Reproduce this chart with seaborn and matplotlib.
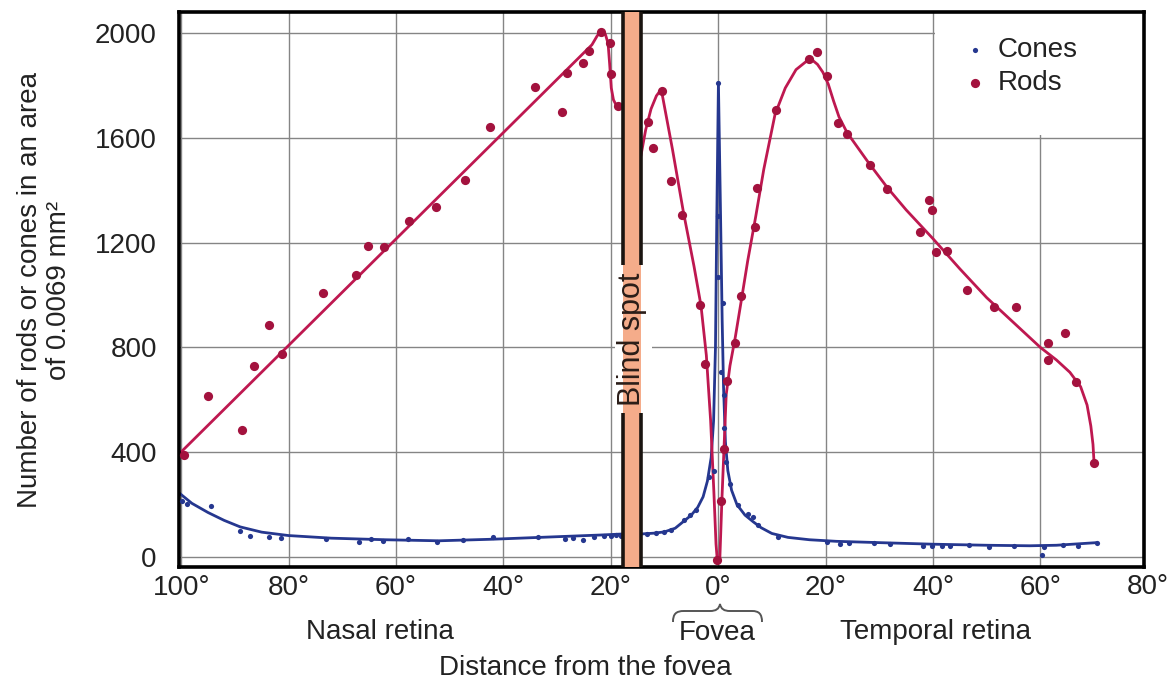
import numpy as np
import pandas as pd
import seaborn as sns
import matplotlib
matplotlib.use("Agg")
import matplotlib.pyplot as plt
from matplotlib.path import Path
from matplotlib.patches import PathPatch, Rectangle

# ---------------- data (degrees: nasal negative, temporal positive) ----------------
rod_pts_x = [-99.4, -95.0, -88.7, -86.5, -83.7, -81.3, -73.5, -67.4, -65.2, -62.2, -57.6, -52.6,
             -47.2, -42.4, -34.1, -29.1, -28.1, -25.2, -24.1, -21.9, -20.2, -20.0, -18.7,
             -13.0, -12.2, -10.5, -8.7, -6.8, -3.3, -2.4, -0.2, 0.6, 1.1, 1.7, 3.2, 4.3, 6.8,
             7.3, 10.8, 16.9, 18.4, 20.2, 22.4, 24.0, 28.3, 31.4, 37.6, 39.2, 39.8, 40.5, 42.7,
             46.4, 51.4, 55.4, 61.5, 64.5, 61.4, 66.6, 69.9]
rod_pts_y = [389, 615, 485, 729, 886, 775, 1008, 1076, 1187, 1183, 1283, 1336,
             1439, 1641, 1794, 1699, 1847, 1886, 1931, 2004, 1962, 1843, 1721,
             1660, 1560, 1780, 1435, 1305, 960, 735, -10, 214, 411, 672, 818, 995, 1260,
             1409, 1706, 1899, 1928, 1835, 1656, 1614, 1495, 1405, 1242, 1361, 1324, 1166, 1168,
             1018, 956, 956, 818, 854, 751, 669, 357]

rod_fit_x = [-100.4, -23.5, -22.5, -21.7, -21.0, -20.5, -20.2, -19.9, -19.5, -19.0, -17.8,
             -14.4, -13.5, -12.5, -11.5, -10.6, -8.5, -6.5, -4.5, -3.2, -2.2, -1.4, -0.8, -0.4,
             -0.15, 0.3, 0.7, 1.1, 1.5, 2.2, 3.2, 4.4, 5.5, 7.0, 8.5, 10.6, 12.5, 14.5, 16.5,
             17.5, 18.5, 19.5, 20.5, 21.5, 22.5, 24.0, 28.0, 31.5, 35.0, 40.0, 45.0, 50.0, 55.0,
             60.0, 63.0, 65.5, 67.5, 68.7, 69.4, 69.8, 70.0]
rod_fit_y = [393, 1955, 1990, 2005, 1995, 1960, 1880, 1790, 1745, 1725, 1718,
             1530, 1630, 1710, 1760, 1785, 1555, 1320, 1110, 960, 770, 520, 250, 50,
             -15, -15, 220, 420, 620, 730, 840, 990, 1130, 1300, 1480, 1690, 1790, 1860, 1893,
             1897, 1880, 1850, 1805, 1740, 1680, 1620, 1505, 1410, 1325, 1215, 1100, 990, 895,
             800, 752, 705, 650, 580, 500, 430, 360]

cone_pts_x = [-99.8, -98.9, -94.4, -89.0, -87.2, -83.7, -81.4, -73.1, -66.9, -64.6, -62.5, -57.8,
              -52.4, -47.5, -42.0, -33.6, -28.5, -27.0, -25.1, -23.1, -21.2, -20.0, -19.0, -18.1,
              -13.2, -11.5, -10.0, -8.8, -6.4, -5.2, -4.2, -1.7, -0.8, 0.0, 0.0, 0.0, 0.9, 0.6,
              1.0, 1.0, 1.5, 2.2, 3.7, 5.5, 6.4, 7.4, 11.1, 20.3, 22.6, 24.3, 29.0, 32.0, 38.2,
              39.9, 41.6, 43.2, 46.8, 50.5, 55.1, 60.7, 60.3, 64.2, 67.0, 70.5]
cone_pts_y = [214, 204, 195, 98, 82, 76, 73, 69, 57, 67, 63, 69,
              57, 65, 78, 78, 69, 72, 65, 78, 82, 82, 84, 82,
              88, 91, 95, 103, 143, 160, 181, 304, 330, 1810, 1300, 1070, 968, 707,
              619, 493, 361, 279, 197, 165, 153, 122, 78, 59, 50, 53, 55, 50, 44,
              44, 44, 44, 47, 40, 44, 40, 9, 47, 44, 53]

cone_fit_x = [-100.4, -98, -95, -92, -89, -85, -80, -72, -62, -52, -42, -32, -22, -17.8,
              -14.4, -12, -10, -8, -6.5, -5, -3.8, -2.8, -2.0, -1.3, -0.85, -0.5, -0.25, 0.05,
              0.45, 0.75, 1.0, 1.35, 1.8, 2.5, 3.5, 5, 6.5, 8, 10, 13, 17, 22, 30, 40, 50, 58, 63, 70.5]
cone_fit_y = [245, 205, 170, 140, 115, 95, 82, 72, 66, 62, 68, 76, 84, 88,
              88, 91, 96, 110, 135, 160, 190, 230, 290, 380, 520, 800, 1300, 1810,
              1300, 900, 650, 440, 330, 255, 200, 160, 135, 112, 90, 75, 66, 60, 55, 49, 45, 43, 45, 55]

x_ticks = [-100, -80, -60, -40, -20, 0, 20, 40, 60]
x_tick_labels = ["100°", "80°", "60°", "40°", "20°", "0°", "20°", "40°", "60°"]
y_ticks = [0, 400, 800, 1200, 1600, 2000]
blind_spot = (-17.8, -14.4)

# ---------------- style ----------------
sns.set_theme(style="whitegrid")
FONT = ["Liberation Sans", "DejaVu Sans"]
plt.rcParams["font.family"] = FONT
plt.rcParams["axes.unicode_minus"] = False

ROD_C = "#BE1850"
ROD_M = "#A3123E"
CONE_C = "#25378F"
TXT = "#222222"
FS = 20

fig = plt.figure(figsize=(11.68, 6.88), dpi=100)
W, H = 1168, 688
ax = fig.add_axes([179 / W, 1 - 567 / H, (1144 - 179) / W, (567 - 12) / H])
ax.set_facecolor("white")
ax.set_axisbelow(True)

rods_pts = pd.DataFrame({"x": rod_pts_x, "y": rod_pts_y})
rods_fit = pd.DataFrame({"x": rod_fit_x, "y": rod_fit_y})
cones_pts = pd.DataFrame({"x": cone_pts_x, "y": cone_pts_y})
cones_fit = pd.DataFrame({"x": cone_fit_x, "y": cone_fit_y})

sns.lineplot(data=cones_fit, x="x", y="y", sort=False, color=CONE_C, lw=2.0, ax=ax, zorder=2)
sns.lineplot(data=rods_fit, x="x", y="y", sort=False, color=ROD_C, lw=2.0, ax=ax, zorder=2.1)
sns.scatterplot(data=cones_pts, x="x", y="y", color=CONE_C, s=14, linewidth=0, ax=ax, zorder=3,
                label="Cones")
sns.scatterplot(data=rods_pts, x="x", y="y", color=ROD_M, s=44, linewidth=0, ax=ax, zorder=3.1,
                label="Rods")

ax.set_xlim(-100.4, 79.3)
ax.set_ylim(-38, 2080)
ax.set_xticks(x_ticks)
ax.set_xticklabels(x_tick_labels)
ax.set_yticks(y_ticks)
ax.set_yticklabels([str(v) for v in y_ticks])
ax.tick_params(axis="x", labelsize=FS, pad=6, length=0, colors=TXT)
ax.tick_params(axis="y", labelsize=FS, pad=16, length=0, colors=TXT)
ax.text(80, -0.012, "80°", transform=ax.get_xaxis_transform(), ha="center", va="top",
        fontsize=FS, color=TXT, clip_on=False)
ax.set_xlabel("")
ax.set_ylabel("")
ax.grid(True, color="#858585", lw=1.0)
for s in ax.spines.values():
    s.set_color("black")
    s.set_linewidth(2.6)

# white patch under legend (hides grid)
ax.add_patch(Rectangle((40.4, 1612), 79.3 - 40.4, 500, facecolor="white", edgecolor="none", zorder=1))
# white gap around blind-spot label
ax.add_patch(Rectangle((-19.3, 550), 7.0, 565, facecolor="white", edgecolor="none", zorder=1))

# blind spot band
ax.axvspan(blind_spot[0], blind_spot[1], color="#F5AC8A", zorder=4, lw=0)
for xb in blind_spot:
    ax.vlines(xb, -38, 550, color="#1a1410", lw=2.6, zorder=5)
    ax.vlines(xb, 1115, 2080, color="#1a1410", lw=2.6, zorder=5)
ax.text(sum(blind_spot) / 2, 830, "Blind spot", rotation=90, ha="center", va="center",
        fontsize=22, color="#2a1d18", zorder=6)

leg = ax.legend(loc="upper left", bbox_to_anchor=(0.785, 1.0), frameon=False, fontsize=FS,
                handletextpad=0.3, labelspacing=0.25, markerscale=1.0, handlelength=1.0)
for t in leg.get_texts():
    t.set_color(TXT)

# annotations below axis
def fx(px):
    return px / W

def fy(py):
    return 1 - py / H

fig.text(fx(380), fy(632), "Nasal retina", ha="center", va="center", fontsize=FS, color=TXT)
fig.text(fx(717), fy(633), "Fovea", ha="center", va="center", fontsize=FS, color=TXT)
fig.text(fx(936), fy(632), "Temporal retina", ha="center", va="center", fontsize=FS, color=TXT)
fig.text(fx(585), fy(668), "Distance from the fovea", ha="center", va="center", fontsize=FS, color=TXT)
fig.text(fx(45), fy(290), "Number of rods or cones in an area\nof 0.0069 mm²", rotation=90,
         ha="center", va="center", fontsize=FS, color=TXT, multialignment="center", linespacing=1.15)

brace = [(673, 622), (673, 614), (676, 611), (684, 611), (710, 611), (716, 611), (719, 609),
         (720, 604), (721, 609), (724, 611), (730, 611), (752, 611), (759, 611), (762, 614), (762, 622)]
codes = [Path.MOVETO, Path.CURVE4, Path.CURVE4, Path.CURVE4, Path.LINETO, Path.CURVE4, Path.CURVE4,
         Path.CURVE4, Path.CURVE4, Path.CURVE4, Path.CURVE4, Path.LINETO, Path.CURVE4, Path.CURVE4,
         Path.CURVE4]
brace_path = Path([(fx(a), fy(b)) for a, b in brace], codes)
fig.patches.append(PathPatch(brace_path, transform=fig.transFigure, facecolor="none",
                             edgecolor="#555555", lw=1.4))

fig.savefig("out.png", dpi=100, facecolor="white")
